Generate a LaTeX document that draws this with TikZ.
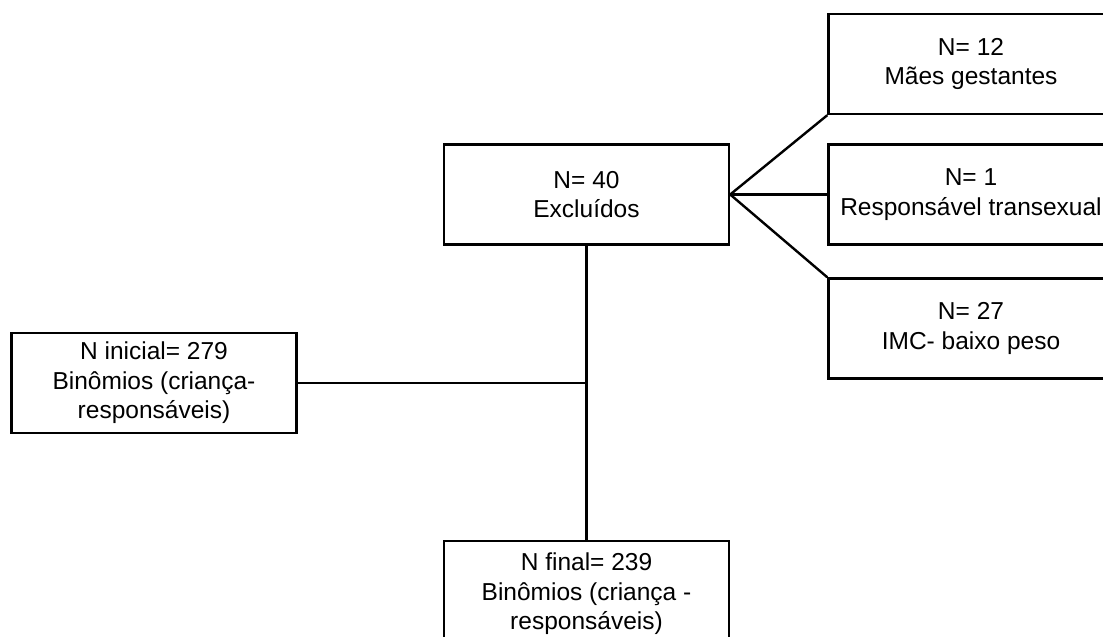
\documentclass[tikz,border=0pt]{standalone}
\usepackage{fontspec}
\setmainfont{Liberation Sans}
\usetikzlibrary{positioning}

\begin{document}
\begin{tikzpicture}[x=1pt, y=-1pt,
    caixa/.style={rectangle, draw, line width=2.4pt, minimum width=285pt, minimum height=100pt,
        inner sep=0pt, align=center, font=\fontsize{24.5}{29.5}\selectfont},
    linha/.style={line width=2.4pt}]
    \useasboundingbox (0,0) rectangle (1103,637);
    \clip (0,0) rectangle (1103,637);

    % Exclusoes
    \node[caixa] (excluidos) at (586.5,194.5) {N= 40\\Excluídos};
    \node[caixa] (gestantes) at (971,64) {N= 12\\Mães gestantes};
    \node[caixa] (transexual) at (971,194.5) {N= 1\\Responsável transexual};
    \node[caixa] (baixopeso) at (971,328.5) {N= 27\\IMC- baixo peso};

    % Amostra
    \node[caixa] (inicial) at (154,383) {N inicial= 279\\Binômios (criança-\\responsáveis)};
    \node[caixa, minimum height=106pt] (final) at (586.5,594) {N final= 239\\Binômios (criança -\\responsáveis)};

    % Ligacoes
    \coordinate (juncao) at (inicial.east -| excluidos.south);
    \draw[linha] (excluidos.east) -- (gestantes.south west);
    \draw[linha] (excluidos.east) -- (transexual.west);
    \draw[linha] (excluidos.east) -- (baixopeso.north west);
    \draw[linha] (excluidos.south) -- (final.north);
    \draw[linha] (inicial.east) -- (juncao);
\end{tikzpicture}
\end{document}
